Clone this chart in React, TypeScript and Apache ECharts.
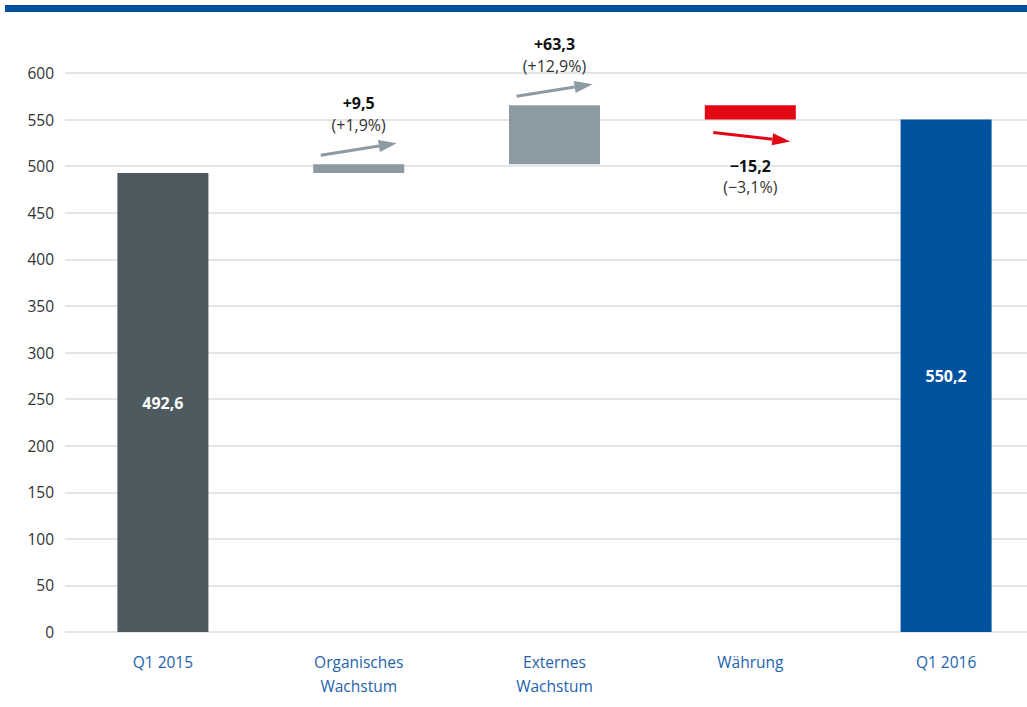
import React, { useEffect, useRef } from "react";
import * as echarts from "echarts";

const categories = ["Q1 2015", "Organisches\nWachstum", "Externes\nWachstum", "Währung", "Q1 2016"];
const startValue = 492.6;
const deltas = [9.5, 63.3, -15.2];
const deltaPct = ["+1,9", "+12,9", "\u22123,1"];
const endValue = 550.2;
const yTicks = { min: 0, max: 600, interval: 50 };

const barColors = ["#4d5a60", "#8c9aa2", "#8c9aa2", "#e30613", "#00519e"];
const arrowColors = ["#8c9aa2", "#8c9aa2", "#e30613"];

function fmt(v: number) {
  return Math.abs(v).toFixed(1).replace(".", ",");
}

export default function App() {
  const ref = useRef<HTMLDivElement>(null);
  useEffect(() => {
    document.body.style.margin = "0";
    const chart = echarts.init(ref.current!, null, { renderer: "svg" });

    const bases: number[] = [0];
    const heights: number[] = [startValue];
    let run = startValue;
    deltas.forEach((d) => {
      if (d >= 0) {
        bases.push(run);
        heights.push(d);
      } else {
        bases.push(run + d);
        heights.push(-d);
      }
      run += d;
    });
    bases.push(0);
    heights.push(endValue);

    const annData = deltas.map((d, i) => {
      const before = startValue + deltas.slice(0, i).reduce((a, b) => a + b, 0);
      return [i + 1, before, before + d, d, i];
    });

    const font = "'Open Sans', 'Noto Sans', sans-serif";

    chart.setOption({
      animation: false,
      grid: { left: 65, right: 0, top: 73, bottom: 75, containLabel: false },
      graphic: [
        { type: "rect", left: 5, top: 5, shape: { width: 1022, height: 7 }, style: { fill: "#00519e" } },
      ],
      xAxis: {
        type: "category",
        data: categories,
        axisLine: { show: false },
        axisTick: { show: false },
        axisLabel: {
          color: "#2563ad",
          fontFamily: font,
          fontSize: 15.5,
          lineHeight: 24,
          margin: 18,
          interval: 0,
        },
      },
      yAxis: {
        type: "value",
        min: yTicks.min,
        max: yTicks.max,
        interval: yTicks.interval,
        axisLine: { show: false },
        axisTick: { show: false },
        axisLabel: { color: "#333", fontFamily: font, fontSize: 15.5, margin: 11 },
        splitLine: { lineStyle: { color: "#d9dde3", width: 1.5 } },
      },
      series: [
        {
          type: "bar",
          stack: "w",
          data: bases,
          itemStyle: { color: "transparent" },
          barWidth: 91,
          silent: true,
        },
        {
          type: "bar",
          stack: "w",
          barWidth: 91,
          data: heights.map((h, i) => ({
            value: h,
            itemStyle: { color: barColors[i] },
            label:
              i === 0 || i === heights.length - 1
                ? {
                    show: true,
                    position: "inside",
                    color: "#fff",
                    fontWeight: "bold",
                    fontFamily: font,
                    fontSize: 16,
                    formatter: () => fmt(i === 0 ? startValue : endValue),
                  }
                : { show: false },
          })),
        },
        {
          type: "custom",
          data: annData,
          encode: { x: 0, y: 2 },
          z: 10,
          renderItem: (params: any, api: any) => {
            const idx = api.value(0);
            const before = api.value(1);
            const after = api.value(2);
            const d = api.value(3);
            const k = api.value(4);
            const color = arrowColors[k];
            const pTop = api.coord([idx, Math.max(before, after)]);
            const pBot = api.coord([idx, Math.min(before, after)]);
            const cx = pTop[0];
            const children: any[] = [];
            let x1 = cx - 38, x2 = cx + 38, y1: number, y2: number, t1: number, t2: number;
            if (d >= 0) {
              y1 = pTop[1] - 9;
              y2 = pTop[1] - 21;
              t1 = pTop[1] - 61;
              t2 = pTop[1] - 39;
            } else {
              x1 = cx - 37;
              x2 = cx + 40;
              y1 = pBot[1] + 13;
              y2 = pBot[1] + 22;
              t1 = pBot[1] + 47;
              t2 = pBot[1] + 68;
            }
            const ang = Math.atan2(y2 - y1, x2 - x1);
            const hl = 18, hw = 6;
            const bx = x2 - hl * Math.cos(ang);
            const by = y2 - hl * Math.sin(ang);
            const nx = -Math.sin(ang), ny = Math.cos(ang);
            children.push({
              type: "line",
              shape: { x1, y1, x2: bx, y2: by },
              style: { stroke: color, lineWidth: 3 },
            });
            children.push({
              type: "polygon",
              shape: {
                points: [
                  [x2, y2],
                  [bx + nx * hw, by + ny * hw],
                  [bx - nx * hw, by - ny * hw],
                ],
              },
              style: { fill: color },
            });
            children.push({
              type: "text",
              style: {
                x: cx,
                y: t1,
                text: (d >= 0 ? "+" : "\u2212") + fmt(d),
                fill: "#111",
                font: `bold 16px ${font}`,
                align: "center",
                verticalAlign: "middle",
              },
            });
            children.push({
              type: "text",
              style: {
                x: cx,
                y: t2,
                text: "(" + deltaPct[k] + "%)",
                fill: "#333",
                font: `16px ${font}`,
                align: "center",
                verticalAlign: "middle",
              },
            });
            return { type: "group", children };
          },
        },
      ],
    });
    return () => chart.dispose();
  }, []);
  return (
    <div style={{ width: 1027, height: 707, overflow: "hidden" }}>
      <div ref={ref} style={{ width: 1044, height: 707 }} />
    </div>
  );
}
